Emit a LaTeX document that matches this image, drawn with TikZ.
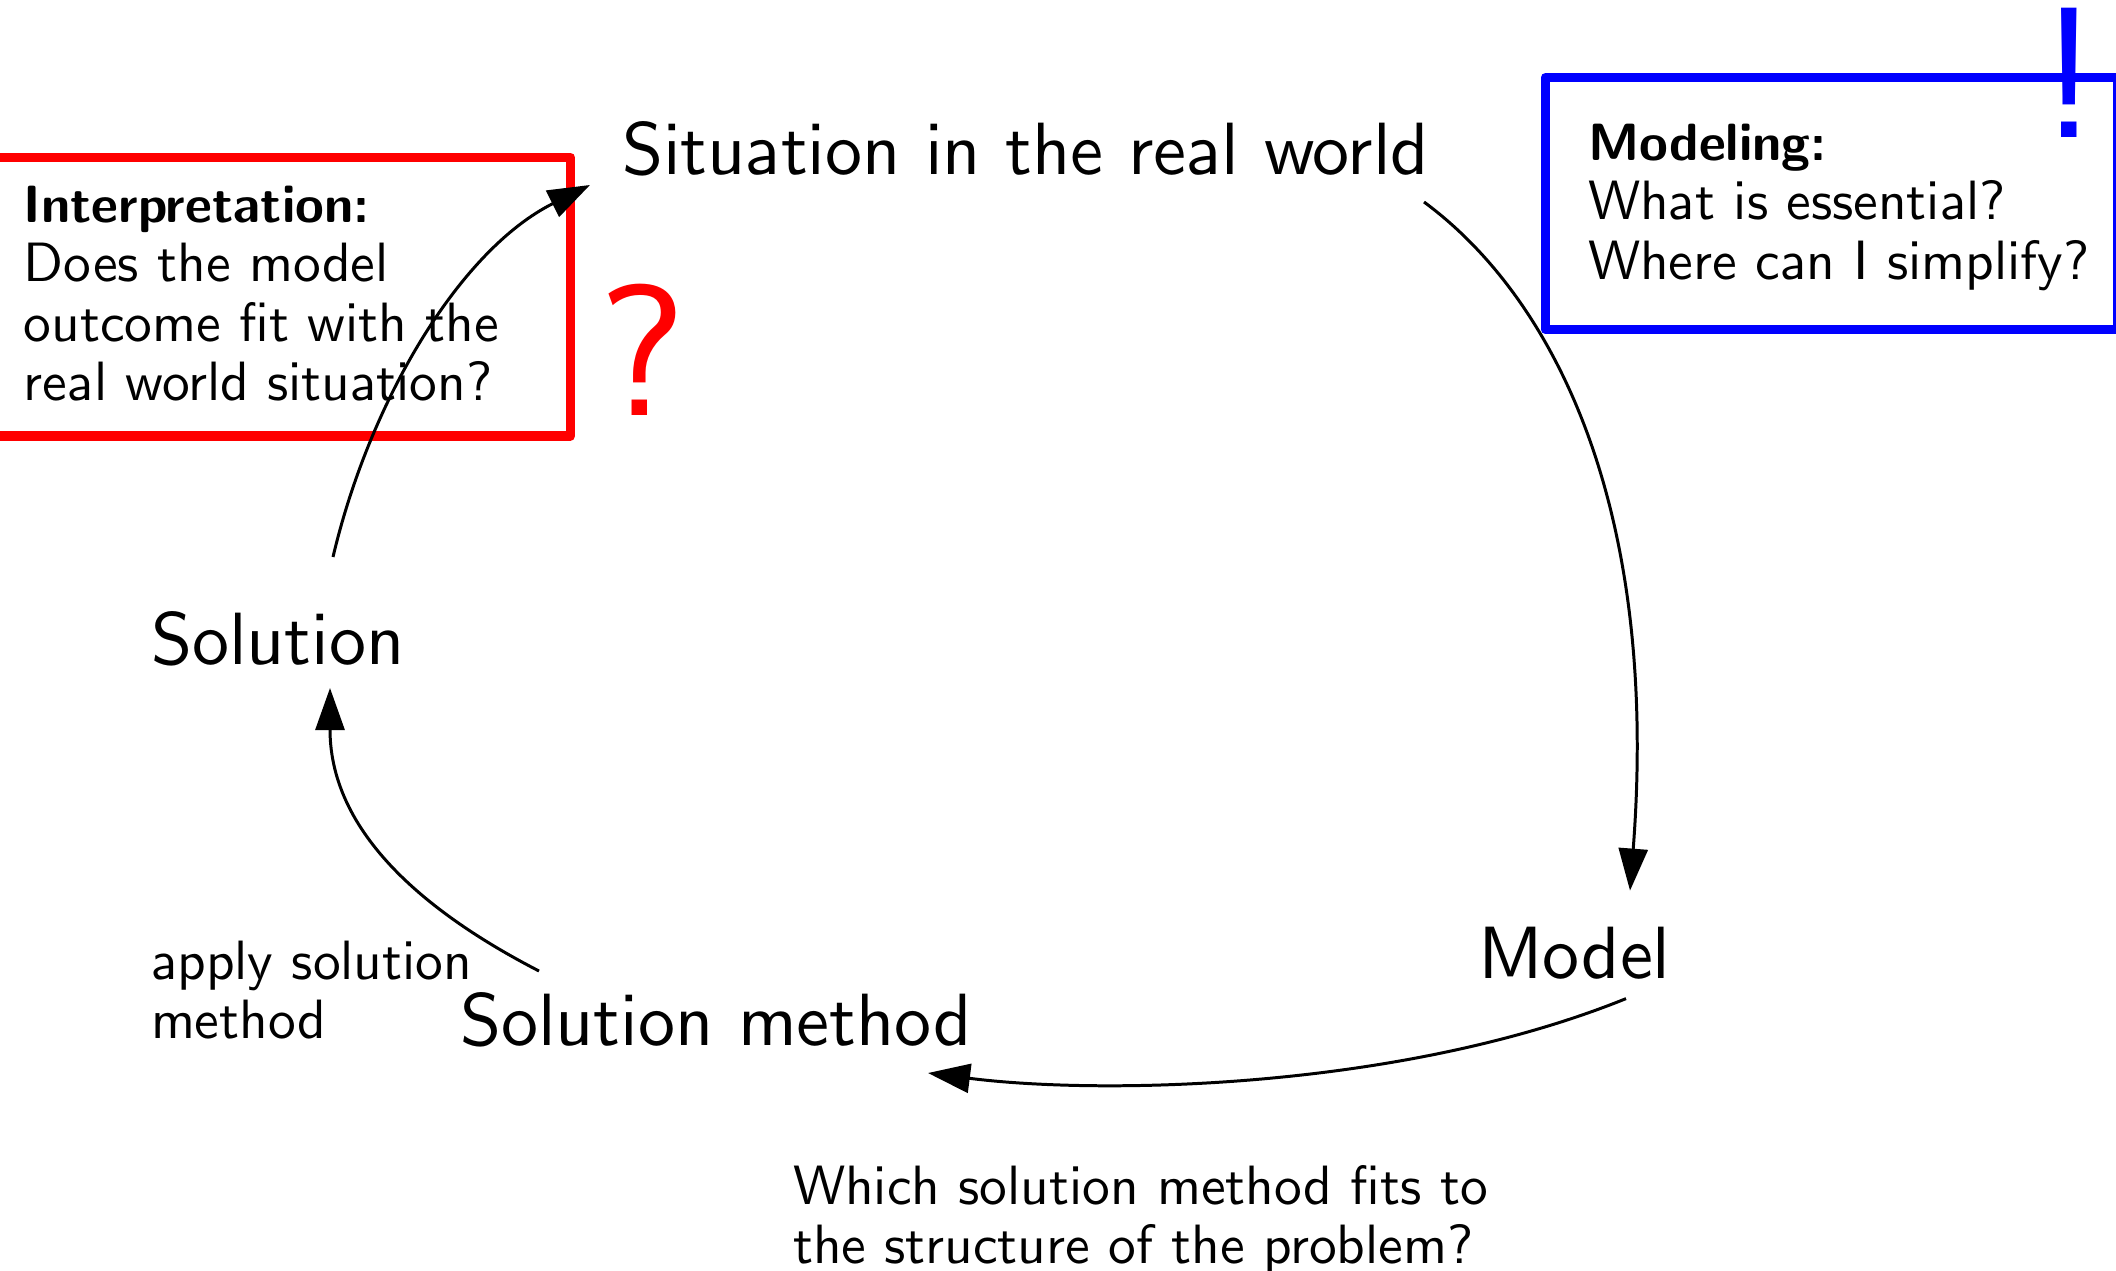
\documentclass[tikz,border=0pt]{standalone}
\usetikzlibrary{arrows.meta,calc}
% sans serif at the 10pt design size, scaled to every size
\DeclareFontFamily{OT1}{sstd}{}
\DeclareFontShape{OT1}{sstd}{m}{n}{<-> cmss10}{}
\DeclareFontShape{OT1}{sstd}{bx}{n}{<-> cmssbx10}{}
\newcommand{\sstd}{\fontencoding{OT1}\fontfamily{sstd}\selectfont}
\newcommand{\heading}[1]{{\fontsize{14.9}{16.9}\selectfont\bfseries #1}}
\begin{document}
\begin{tikzpicture}[x=0.01cm,y=-0.01cm,
  every node/.style={inner sep=0pt, outer sep=0pt},
  big/.style={font=\fontsize{21.05}{25}\sstd, anchor=base west},
  note/.style={font=\fontsize{15.75}{16.9}\sstd, anchor=base west},
  conn/.style={line width=0.85pt, -{Triangle[length=0.42cm,width=0.29cm]}},
  frame/.style={line width=0.09cm, line join=round},
  sign/.style={font=\fontsize{53}{60}\sstd, anchor=base},
]
\useasboundingbox (0,0) rectangle (2116,1270);
\clip (0,0) rectangle (2116,1270);

% framed remarks
\draw[frame, red] (-20,157.5) rectangle (570.5,436);
\draw[frame, blue] (1545.3,77.5) rectangle (2117.5,329.7);

\node[note] (interp) at (24,222.5) {\begin{tabular}[t]{@{}l@{}}\heading{Interpretation:}\\
  Does the model\\ outcome fit with the\\ real world situation?\end{tabular}};
\node[note] (modeling) at (1588,160.5) {\begin{tabular}[t]{@{}l@{}}\heading{Modeling:}\\
  What is essential?\\ Where can I simplify?\end{tabular}};

\node[sign, text=red] (qmark) at (642,416) {?};
\node[sign, text=blue] (emark) at (2069,138) {!};

% stages of the cycle
\node[big] (sit) at (622,175) {Situation in the real world};
\node[big] (model) at (1478,978.6) {Model};
\node[big] (meth) at (460,1045) {Solution method};
\node[big] (sol) at (151,664) {Solution};

\node[note] (apply) at (151,979) {\begin{tabular}[t]{@{}l@{}}apply solution\\ method\end{tabular}};
\node[note] (which) at (793,1204) {\begin{tabular}[t]{@{}l@{}}Which solution method fits to\\ the structure of the problem?\end{tabular}};

% transitions
\draw[conn] ($(sit.base west)+(802,27)$) .. controls (1550,295) and (1660,500) .. ($(model.base west)+(152,-88)$);
\draw[conn] ($(model.base west)+(148,20)$) .. controls (1400,1090) and (1100,1095) .. ($(meth.base west)+(468,28)$);
\draw[conn] ($(meth.base west)+(79,-74)$) .. controls (440,920) and (330,840) .. ($(sol.base west)+(179,24)$);
\draw[conn] ($(sol.base west)+(182,-107)$) .. controls (370,400) and (460,250) .. ($(sit.base west)+(-32,10)$);
\end{tikzpicture}
\end{document}
